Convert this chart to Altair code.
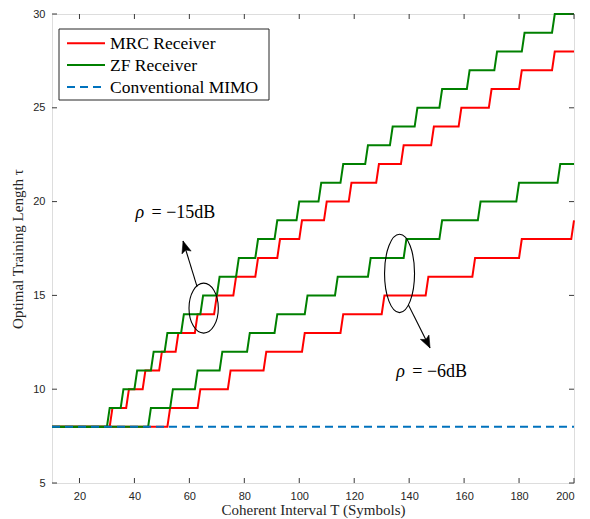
import altair as alt
import pandas as pd

# ---------------- data ----------------
T_START, T_END = 10, 200
BASE_TAU = 8
# first integer T at which tau steps up by one (each entry = +1)
zf_15dB_steps = [31, 36, 41, 47, 52, 58, 65, 71, 78, 85, 92, 100, 108, 116, 125,
                 134, 143, 152, 162, 172, 182, 193]
mrc_15dB_steps = [32, 38, 44, 50, 56, 63, 70, 77, 85, 93, 101, 110, 119, 129, 138,
                  149, 159, 170, 181, 193]
zf_6dB_steps = [46, 54, 63, 72, 82, 92, 103, 114, 126, 139, 152, 166, 180, 195]
mrc_6dB_steps = [53, 64, 75, 88, 102, 116, 131, 147, 164, 181, 200]
conv_T = [10, 200]
conv_tau = [8, 8]

x_ticks = [20, 40, 60, 80, 100, 120, 140, 160, 180, 200]
y_ticks = [5, 10, 15, 20, 25, 30]

legend_names = ["MRC Receiver", "ZF Receiver", "Conventional MIMO"]
legend_colors = ["#ff0000", "#008000", "#0072bd"]

# annotations (data coordinates)
ell_T = [65.2, 136.5]
ell_tau = [14.32, 16.17]
arrow_T0 = [62.8, 139.7]
arrow_tau0 = [15.47, 14.5]
arrow_T1 = [57.7, 147.6]
arrow_tau1 = [17.9, 12.2]
arrow_angle = [343, 153.4]
label_T = [40.4, 135.3]
label_tau = [19.1, 10.66]
label_text = ["= \u221215dB", "= \u22126dB"]

# ---------------- build tables ----------------
def step_points(starts):
    pts = [(T_START, BASE_TAU)]
    lvl = BASE_TAU
    for s in starts:
        pts.append((s - 1, lvl))
        lvl += 1
        pts.append((s, lvl))
    if pts[-1][0] < T_END:
        pts.append((T_END, lvl))
    return pts

rows = []
for rx, curve, starts in [("MRC Receiver", "mrc15", mrc_15dB_steps),
                          ("MRC Receiver", "mrc6", mrc_6dB_steps),
                          ("ZF Receiver", "zf15", zf_15dB_steps),
                          ("ZF Receiver", "zf6", zf_6dB_steps)]:
    for i, (t, v) in enumerate(step_points(starts)):
        rows.append({"T": t, "tau": v, "rx": rx, "curve": curve, "idx": i})
steps_df = pd.DataFrame(rows)
conv_df = pd.DataFrame({"T": conv_T, "tau": conv_tau})

W, H = 522, 469
xs = alt.Scale(domain=[T_START, T_END], nice=False, zero=False)
ys = alt.Scale(domain=[5, 30], nice=False, zero=False)

x_enc = alt.X("T:Q", scale=xs, axis=alt.Axis(
    values=x_ticks, title="Coherent Interval T (Symbols)", grid=False, domain=False,
    ticks=False, tickSize=0, labelPadding=7, labelFont="Liberation Sans", labelFontSize=11,
    labelColor="#262626", titleFont="Liberation Serif", titleFontSize=15,
    titleFontWeight="normal", titleColor="#262626", titleY=26, titleBaseline="middle"))
y_enc = alt.Y("tau:Q", scale=ys, axis=alt.Axis(
    values=y_ticks, title="Optimal Training Length \u03c4", grid=False, domain=False,
    ticks=False, tickSize=0, labelPadding=7, labelFont="Liberation Sans", labelFontSize=11,
    labelColor="#262626", titleFont="Liberation Serif", titleFontSize=15,
    titleFontWeight="normal", titleColor="#262626", titleX=-35, titleY=H / 2,
    titleAngle=270, titleBaseline="middle", titleAlign="center"))

layers = []

def curve_layer(name, color):
    d = steps_df[steps_df.rx == name]
    return alt.Chart(d).mark_line(strokeWidth=2, color=color, strokeJoin="miter").encode(
        x=x_enc, y=y_enc, detail="curve:N", order="idx:Q")

layers.append(curve_layer("MRC Receiver", legend_colors[0]))
layers.append(curve_layer("ZF Receiver", legend_colors[1]))
layers.append(alt.Chart(conv_df).mark_line(strokeWidth=2, color=legend_colors[2],
                                           strokeDash=[8, 5]).encode(x=x_enc, y=y_enc))

# inward ticks (MATLAB style)
frame = "#3a3a3a"
xt = pd.DataFrame({"T": x_ticks})
yt = pd.DataFrame({"tau": y_ticks})
layers.append(alt.Chart(xt).mark_rule(color=frame, strokeWidth=1).encode(
    x=alt.X("T:Q", scale=xs), y=alt.value(H), y2=alt.value(H - 5)))
layers.append(alt.Chart(xt).mark_rule(color=frame, strokeWidth=1).encode(
    x=alt.X("T:Q", scale=xs), y=alt.value(0), y2=alt.value(5)))
layers.append(alt.Chart(yt).mark_rule(color=frame, strokeWidth=1).encode(
    y=alt.Y("tau:Q", scale=ys), x=alt.value(0), x2=alt.value(5)))
layers.append(alt.Chart(yt).mark_rule(color=frame, strokeWidth=1).encode(
    y=alt.Y("tau:Q", scale=ys), x=alt.value(W), x2=alt.value(W - 5)))

# ellipses
def ellipse_path(rx, ry):
    k = 0.5523
    return (f"M0,{-ry} C{k*rx},{-ry} {rx},{-k*ry} {rx},0 C{rx},{k*ry} {k*rx},{ry} 0,{ry} "
            f"C{-k*rx},{ry} {-rx},{k*ry} {-rx},0 C{-rx},{-k*ry} {-k*rx},{-ry} 0,{-ry} Z")

for i, (rxr, sz) in enumerate([(0.586, 2500), (0.383, 6131)]):
    e = pd.DataFrame({"T": [ell_T[i]], "tau": [ell_tau[i]]})
    layers.append(alt.Chart(e).mark_point(shape=ellipse_path(rxr, 1.0), size=sz, filled=False,
                                          stroke="black", strokeWidth=1.1, opacity=1).encode(
        x=alt.X("T:Q", scale=xs), y=alt.Y("tau:Q", scale=ys)))

# arrows
arr = pd.DataFrame({"T": arrow_T0, "tau": arrow_tau0, "T1": arrow_T1, "tau1": arrow_tau1,
                    "ang": arrow_angle})
layers.append(alt.Chart(arr).mark_rule(color="black", strokeWidth=1.1).encode(
    x=alt.X("T:Q", scale=xs), y=alt.Y("tau:Q", scale=ys), x2="T1:Q", y2="tau1:Q"))
layers.append(alt.Chart(arr).mark_point(shape="M0,0 L0.4,1 L0,0.78 L-0.4,1 Z", size=576,
                                        filled=True, fill="black", stroke="black",
                                        strokeWidth=0.5, opacity=1).encode(
    x=alt.X("T1:Q", scale=xs), y=alt.Y("tau1:Q", scale=ys), angle=alt.Angle("ang:Q", scale=None)))

# annotation labels
lab = pd.DataFrame({"T": label_T, "tau": label_tau, "txt": label_text})
layers.append(alt.Chart(lab).mark_text(text="\u03c1", font="Liberation Serif", fontSize=18,
                                       fontStyle="italic", align="left",
                                       baseline="alphabetic", color="black").encode(
    x=alt.X("T:Q", scale=xs), y=alt.Y("tau:Q", scale=ys)))
layers.append(alt.Chart(lab).mark_text(font="Liberation Serif", fontSize=18, align="left",
                                       baseline="alphabetic", color="black", dx=16).encode(
    x=alt.X("T:Q", scale=xs), y=alt.Y("tau:Q", scale=ys), text="txt:N"))

# legend (manual, MATLAB style box)
layers.append(alt.Chart(alt.Data(values=[{"a": 1}])).mark_rect(
    fill="white", stroke="#262626", strokeWidth=1).encode(
    x=alt.value(7), x2=alt.value(217), y=alt.value(15), y2=alt.value(86)))
row_y = [29.3, 51, 73]
for i, name in enumerate(legend_names):
    d = alt.Data(values=[{"label": name}])
    dash = [8, 5] if i == 2 else [1, 0]
    layers.append(alt.Chart(d).mark_rule(color=legend_colors[i], strokeWidth=2,
                                         strokeDash=dash).encode(
        x=alt.value(15), x2=alt.value(53), y=alt.value(row_y[i])))
    layers.append(alt.Chart(d).mark_text(font="Liberation Serif", fontSize=17.5, align="left",
                                         baseline="middle", color="black").encode(
        x=alt.value(58), y=alt.value(row_y[i] + 1), text="label:N"))

chart = alt.layer(*layers).properties(
    width=W, height=H,
    autosize=alt.AutoSizeParams(type="none"),
    padding={"left": 44, "top": 6, "right": 8, "bottom": 38},
).configure_view(stroke=frame, strokeWidth=1).configure(background="white")

chart.save("out.html", embed_options={"renderer": "svg", "actions": False})
